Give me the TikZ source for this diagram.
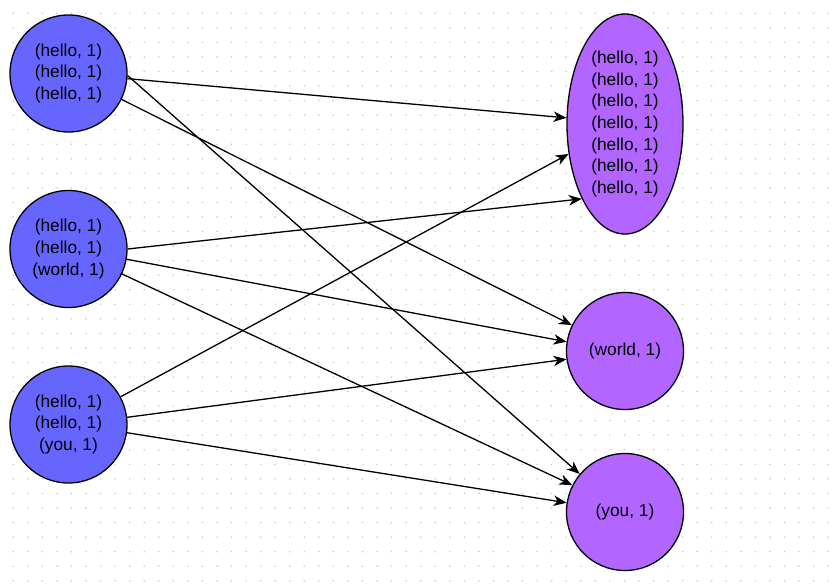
\documentclass[tikz,border=0pt]{standalone}
\usepackage{fontspec}
\setmainfont{Liberation Sans}
\usetikzlibrary{shapes.geometric,arrows.meta}
\definecolor{mapblue}{RGB}{102,102,255}
\definecolor{redpurple}{RGB}{178,102,255}
\definecolor{griddot}{RGB}{200,200,200}
\begin{document}
\begin{tikzpicture}[x=1pt,y=-1pt,
  txt/.style={align=center,font=\fontsize{17.3}{21.7}\selectfont,text=black},
  mapnode/.style={circle,draw=black,line width=1.3pt,fill=mapblue,minimum size=117pt,inner sep=0pt,txt},
  rednode/.style={circle,draw=black,line width=1.3pt,fill=redpurple,minimum size=117pt,inner sep=0pt,txt},
  redell/.style={ellipse,draw=black,line width=1.3pt,fill=redpurple,minimum width=116pt,minimum height=220pt,inner sep=0pt,txt},
  link/.style={draw=black,line width=1.3pt,-{Stealth[length=13pt,width=10.5pt,inset=4pt]}}]
\useasboundingbox (0,0) rectangle (832,586);
\fill[white] (0,0) rectangle (832,586);
\foreach \i in {0,...,56}{
  \foreach \j in {0,...,39}{
    \fill[griddot] (13.3+14.55*\i,13.3+14.55*\j) circle (0.85pt);
  }
}
\node[mapnode] (m1) at (68.5,73.5) {(hello, 1)\\(hello, 1)\\(hello, 1)};
\node[mapnode] (m2) at (68.5,249) {(hello, 1)\\(hello, 1)\\(world, 1)};
\node[mapnode] (m3) at (68.5,424.5) {(hello, 1)\\(hello, 1)\\(you, 1)};
\node[redell] (rh) at (625,124) {(hello, 1)\\(hello, 1)\\(hello, 1)\\(hello, 1)\\(hello, 1)\\(hello, 1)\\(hello, 1)};
\node[rednode] (rw) at (625,351) {(world, 1)};
\node[rednode] (ry) at (625,512) {(you, 1)};
% map 1
\draw[link] (m1.-5.3) -- (rh.174.4);
\draw[link] (m1.-26.1) -- (rw.154);
\draw[link] (m1.-2.4) -- (ry.140.4);
% map 2
\draw[link] (m2.0) -- (rh.240.9);
\draw[link] (m2.-10.7) -- (rw.171);
\draw[link] (m2.-25.4) -- (ry.153.1);
% map 3
\draw[link] (m3.28.6) -- (rh.208.7);
\draw[link] (m3.7.6) -- (rw.188.7);
\draw[link] (m3.-8.6) -- (ry.171.5);
\end{tikzpicture}
\end{document}
